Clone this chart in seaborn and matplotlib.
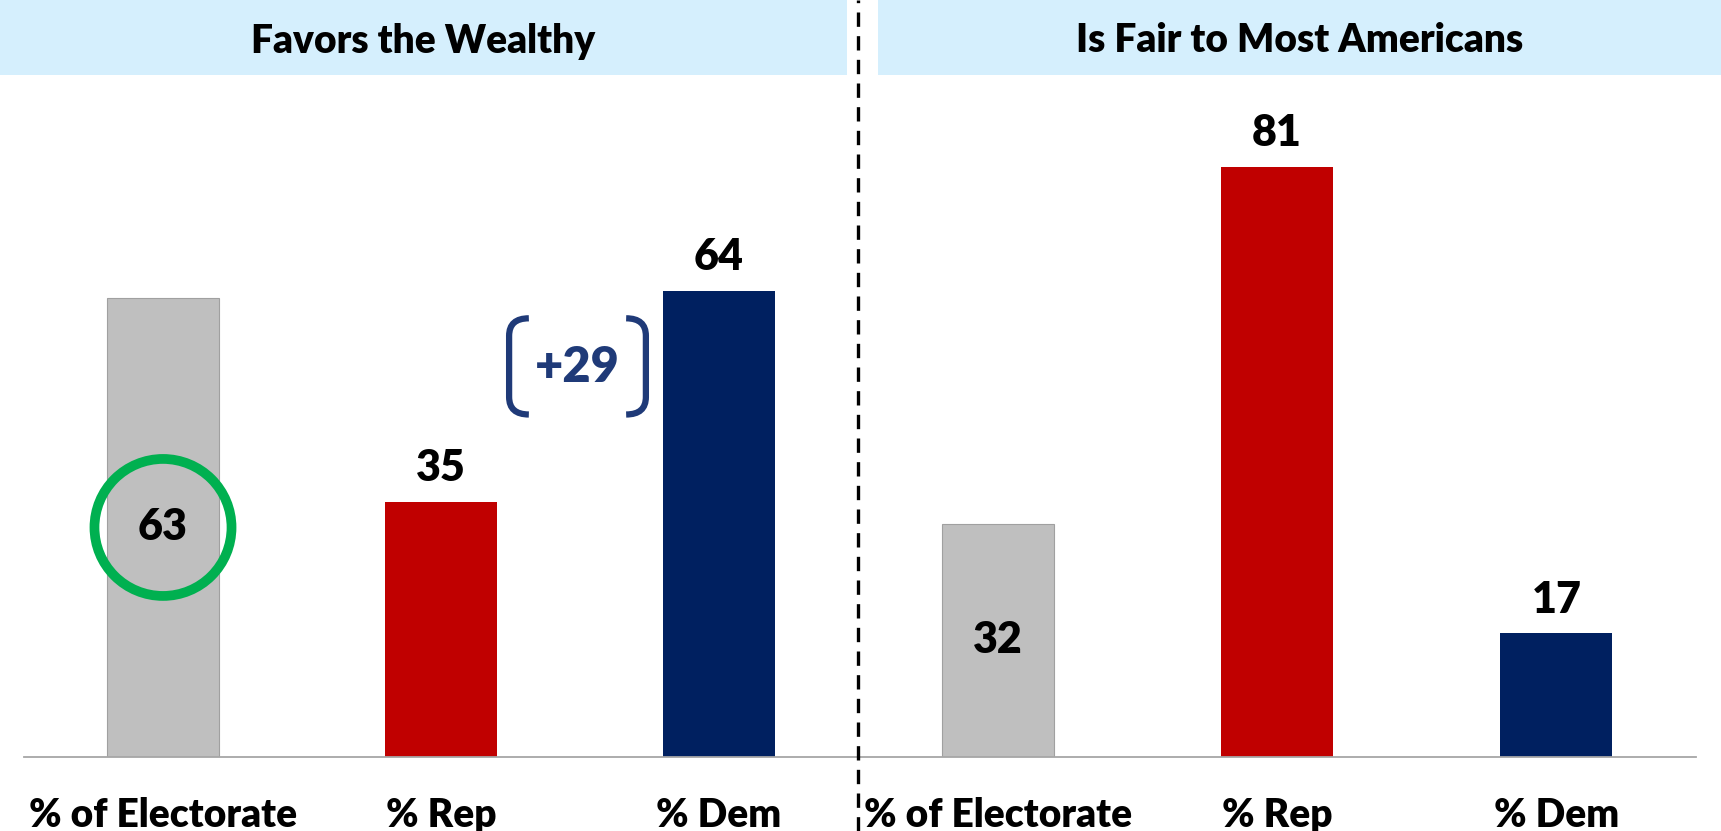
import matplotlib.pyplot as plt
import matplotlib.patches as mpatches
from matplotlib.path import Path
from matplotlib.lines import Line2D
import pandas as pd
import seaborn as sns

categories = ["% of Electorate", "% Rep", "% Dem"]
wealthy_values = [63, 35, 64]
fair_values = [32, 81, 17]
panel_titles = ["Favors the Wealthy", "Is Fair to Most Americans"]
bar_colors = ["#BFBFBF", "#C00000", "#002060"]
gap_label = "+29"

sns.set_style("white")
plt.rcParams['font.family'] = ['Lato', 'DejaVu Sans']
plt.rcParams['text.color'] = 'black'
plt.rcParams['xtick.color'] = 'black'

W, H = 1721, 831
fig = plt.figure(figsize=(W / 100, H / 100), dpi=100)

FS = 28
VFS = 31
FW = 'heavy'
base_y = 757
top_y = 80
ymax = 92.9
ax_bottom = (H - base_y) / H
ax_height = (base_y - top_y) / H
ax1 = fig.add_axes([24 / W, ax_bottom, 834 / W, ax_height])
ax2 = fig.add_axes([858 / W, ax_bottom, 838 / W, ax_height])

for ax, vals in [(ax1, wealthy_values), (ax2, fair_values)]:
    df = pd.DataFrame({'cat': categories, 'val': vals})
    sns.barplot(data=df, x='cat', y='val', hue='cat', palette=bar_colors,
                width=0.4, ax=ax, legend=False, saturation=1)
    for i, p in enumerate(ax.patches):
        if i == 0:
            p.set_edgecolor('#A0A0A0')
            p.set_linewidth(0.8)
        else:
            p.set_linewidth(0)
    for i, v in enumerate(vals):
        if i == 0:
            ax.text(i, v / 2, str(v), ha='center', va='center',
                    fontsize=VFS, fontweight=FW, color='black')
        else:
            ax.text(i, v + 4.6, str(v), ha='center', va='center',
                    fontsize=VFS, fontweight=FW, color='black')
    ax.set_xlim(-0.5, 2.5)
    ax.set_ylim(0, ymax)
    ax.set_xlabel('')
    ax.set_ylabel('')
    ax.set_yticks([])
    ax.set_xticks([-0.5, 0.5, 1.5, 2.5])
    ax.set_xticklabels([])
    ax.set_xticks([0, 1, 2], minor=True)
    ax.set_xticklabels(categories, minor=True, fontsize=FS, fontweight=FW,
                       color='black')
    ax.tick_params(axis='x', which='major', direction='out', length=12,
                   width=1.3, color='#A6A6A6')
    ax.tick_params(axis='x', which='minor', length=0, pad=29)
    for s in ['top', 'left', 'right']:
        ax.spines[s].set_visible(False)
    ax.spines['bottom'].set_color('#A6A6A6')
    ax.spines['bottom'].set_linewidth(1.3)
    ax.patch.set_alpha(0)

# highlight circle on electorate bar
circle = mpatches.Ellipse((0, wealthy_values[0] / 2), 0.493, 18.8, fill=False,
                          edgecolor='#00B050', linewidth=7, zorder=5)
ax1.add_patch(circle)

# bracket with gap label
bc = '#1F3A78'
def bracket(ax, x_line, x_end, y_top, y_bot):
    r = 2.4
    verts = [(x_end, y_top), (x_line, y_top), (x_line, y_top - r),
             (x_line, y_bot + r), (x_line, y_bot), (x_end, y_bot)]
    codes = [Path.MOVETO, Path.CURVE3, Path.CURVE3,
             Path.LINETO, Path.CURVE3, Path.CURVE3]
    ax.add_patch(mpatches.PathPatch(Path(verts, codes), fill=False,
                                    edgecolor=bc, linewidth=4.5, capstyle='butt'))

bracket(ax1, 1.245, 1.316, 60.2, 47.0)
bracket(ax1, 1.737, 1.666, 60.2, 47.0)
ax1.text(1.49, 53.4, gap_label, ha='center', va='center', fontsize=35,
         fontweight=FW, color=bc)

# header bars
for (x0, x1), title in zip([(0, 847), (878, W)], panel_titles):
    fig.add_artist(mpatches.Rectangle((x0 / W, 1 - 75 / H), (x1 - x0) / W, 75 / H,
                                      transform=fig.transFigure,
                                      facecolor='#D5EFFD', edgecolor='none'))
    fig.text((x0 + x1) / 2 / W, 1 - 41 / H, title, ha='center', va='center',
             fontsize=FS, fontweight=FW, color='black')

# divider
fig.add_artist(Line2D([858 / W, 858 / W], [0, 1], transform=fig.transFigure,
                      color='black', linewidth=2.4, linestyle=(0, (4.3, 2.8))))

plt.savefig('out.png', dpi=100)
